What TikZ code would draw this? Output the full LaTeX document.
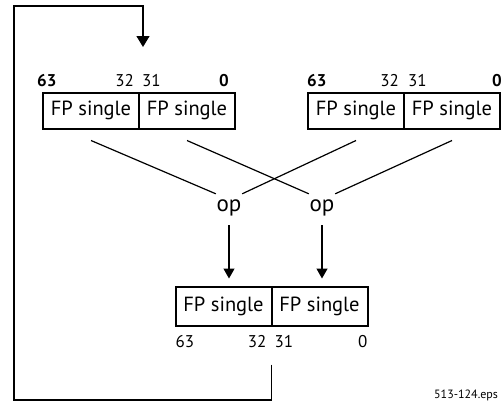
\documentclass[tikz,border=0pt]{standalone}
\usepackage{fontspec}
\setmainfont{PT Sans}
\usepackage{tikz}
\usetikzlibrary{arrows.meta, positioning}
\tikzstyle{half} = [
    rectangle,
    draw,
    line width=2pt,
    outer sep=0pt,
    inner sep=0pt,
    minimum width=96pt,
    minimum height=36pt,
    font=\fontsize{20.5}{24}\selectfont
]
\tikzstyle{bitlabel} = [
    inner sep=0pt,
    font=\fontsize{17}{20}\selectfont
]
\tikzstyle{bitbold} = [
    inner sep=0pt,
    font=\fontsize{17}{20}\selectfont\bfseries
]
\tikzstyle{opnode} = [
    minimum width=26pt,
    minimum height=28pt,
    inner sep=0pt,
    font=\fontsize{23}{26}\selectfont
]
\tikzstyle{wire} = [
    line width=1.2pt
]
\tikzstyle{arrow} = [
    line width=1.3pt,
    -{Triangle[width=11pt, length=10pt]}
]

\begin{document}
\begin{tikzpicture}[x=1pt, y=-1pt]
        \useasboundingbox (0,0) rectangle (501,402);

        % Source registers
        \node[half] (srcAhi) at (91,110.5) {FP single};
        \node[half, right=0pt of srcAhi] (srcAlo) {FP single};
        \node[half] (srcBhi) at (356,110.5) {FP single};
        \node[half, right=0pt of srcBhi] (srcBlo) {FP single};

        % Destination register
        \node[half, minimum height=39pt] (dstHi) at (223.5,306) {FP single};
        \node[half, minimum height=39pt, right=0pt of dstHi] (dstLo) {FP single};

        % Bit numbers
        \node[bitbold, anchor=base west] (aBit63) at ([xshift=-6pt, yshift=6.5pt]srcAhi.north west) {63};
        \node[bitlabel, anchor=base east] (aBit32) at ([xshift=-5pt, yshift=6.5pt]srcAhi.north east) {32};
        \node[bitlabel, anchor=base west] (aBit31) at ([xshift=3pt, yshift=6.5pt]srcAlo.north west) {31};
        \node[bitbold, anchor=base east] (aBit0) at ([xshift=-6pt, yshift=6.5pt]srcAlo.north east) {0};
        \node[bitbold, anchor=base west] (bBit63) at ([xshift=-1pt, yshift=6.5pt]srcBhi.north west) {63};
        \node[bitlabel, anchor=base east] (bBit32) at ([xshift=-5pt, yshift=6.5pt]srcBhi.north east) {32};
        \node[bitlabel, anchor=base west] (bBit31) at ([xshift=4pt, yshift=6.5pt]srcBlo.north west) {31};
        \node[bitbold, anchor=base east] (bBit0) at ([xshift=2pt, yshift=6.5pt]srcBlo.north east) {0};
        \node[bitlabel, anchor=base west] (dBit63) at ([yshift=-21.5pt]dstHi.south west) {63};
        \node[bitlabel, anchor=base east] (dBit32) at ([xshift=-5pt, yshift=-21.5pt]dstHi.south east) {32};
        \node[bitlabel, anchor=base west] (dBit31) at ([xshift=3pt, yshift=-21.5pt]dstLo.south west) {31};
        \node[bitlabel, anchor=base east] (dBit0) at ([yshift=-21.5pt]dstLo.south east) {0};

        % Operations
        \node[opnode] (opHi) at (229,208) {op};
        \node[opnode] (opLo) at (322,208) {op};

        % Operand lines
        \draw[wire] ([yshift=-12pt]srcAhi.south) -- (opHi.north west);
        \draw[wire] ([yshift=-12pt]srcBhi.south) -- (opHi.north east);
        \draw[wire] ([yshift=-12pt]srcAlo.south) -- (opLo.north west);
        \draw[wire] ([yshift=-12pt]srcBlo.south) -- (opLo.north east);

        % Results
        \draw[arrow, shorten <=3pt, shorten >=8pt] (opHi.south) -- (opHi.south |- dstHi.north);
        \draw[arrow, shorten <=3pt, shorten >=8pt] (opLo.south) -- (opLo.south |- dstLo.north);

        % Feedback
        \coordinate (fbStart) at ([yshift=-39pt]dstHi.south east);
        \coordinate (fbTip) at (143,47);
        \draw[arrow, -{Triangle[width=13pt, length=11pt]}] (fbStart) |- (14,400) -- (14,6) -| (fbTip);

        % File name
        \node[font=\fontsize{12}{14}\selectfont, anchor=base west, inner sep=0pt] (fileName) at (434,398) {513-124.eps};
    \end{tikzpicture}
\end{document}
